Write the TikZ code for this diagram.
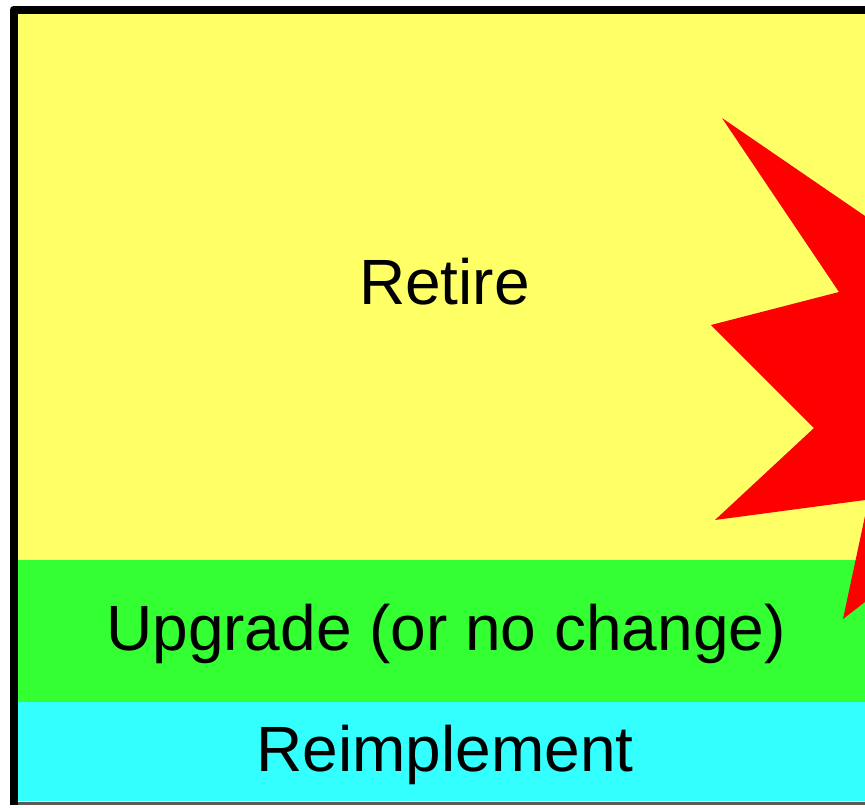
\documentclass[tikz,border=0pt]{standalone}
\usepackage{fontspec}
\setmainfont{Liberation Sans}
\definecolor{cyellow}{HTML}{FFFF66}
\definecolor{cgreen}{HTML}{33FF33}
\definecolor{ccyan}{HTML}{33FFFF}
\definecolor{cred}{HTML}{FF0000}
\tikzset{label text/.style={inner sep=0pt,font=\fontsize{64}{64}\selectfont,text=black,anchor=base}}
\begin{document}
\begin{tikzpicture}[x=1pt,y=-1pt]
\useasboundingbox (0,0) rectangle (865,807);
\fill[white] (0,0) rectangle (865,807);
\fill[cyellow] (18,13) rectangle (865,560);
\fill[cgreen] (18,560) rectangle (865,702);
\fill[ccyan] (18,702) rectangle (865,801);
\draw[black!65,line width=3pt] (10,803.5) -- (865,803.5);
\draw[black,line width=8pt,line join=round] (13.5,805) -- (13.5,9.5) -- (865,9.5);
\fill[cred] (722,118) -- (865,216) -- (865,516) -- (843,619) -- (865,602) -- (865,500) -- (715,520) -- (814,428) -- (711,325) -- (839,292) -- cycle;
\node[label text] (retire) at (444.5,304) {Retire};
\node[label text] (upgrade) at (446,650) {Upgrade (or no change)};
\node[label text] (reimpl) at (445,771) {Reimplement};
\end{tikzpicture}
\end{document}
